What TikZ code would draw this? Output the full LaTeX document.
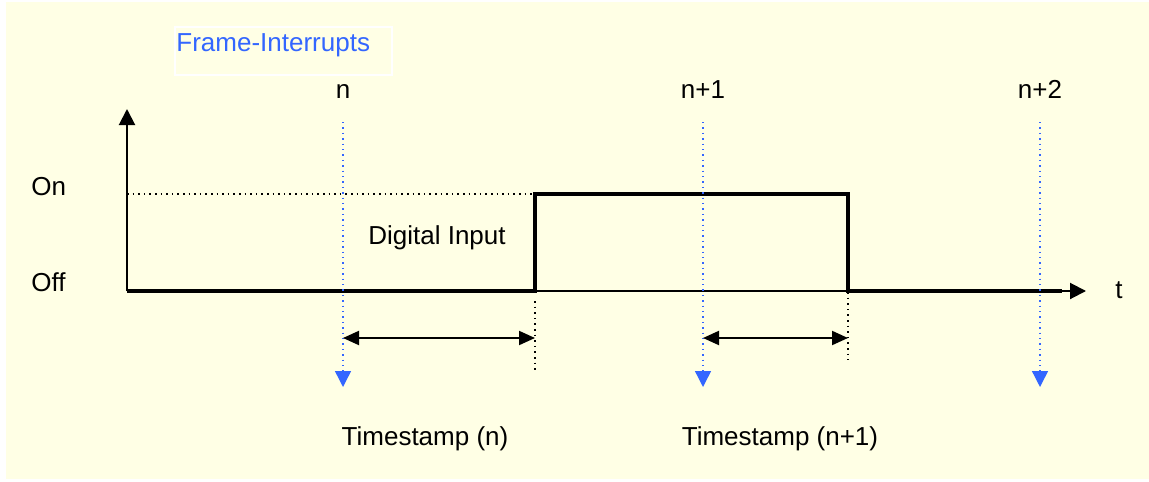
\documentclass[tikz,border=0pt]{standalone}
\usepackage{fontspec}
\setmainfont{Liberation Sans}
\usepackage{xcolor}
\usetikzlibrary{arrows.meta,positioning}
\definecolor{bgyellow}{RGB}{255,255,229}
\definecolor{irqblue}{RGB}{51,102,255}

\begin{document}
\begin{tikzpicture}[
    x=0.5pt, y=-0.5pt,
    lbl/.style={font=\fontsize{13}{15}\selectfont, inner sep=0pt},
    axis/.style={line width=1pt, -{Triangle[length=8pt,width=8pt]}},
    signal/.style={line width=2pt, line join=miter},
    irq/.style={irqblue, line width=0.7pt, dotted,
                -{Triangle[length=8pt,width=8pt]}},
    span/.style={line width=1pt,
                 {Triangle[length=8pt,width=7pt]}-{Triangle[length=8pt,width=7pt]}},
    guide/.style={line width=0.8pt, dotted},
  ]
  \useasboundingbox (0,0) rectangle (1149,481);
  \fill[white] (0,0) rectangle (1149,481);
  \fill[bgyellow] (6,2) rectangle (1149,479);

  % title box
  \node[draw=white, line width=1pt, minimum width=108.5pt, minimum height=24pt,
        anchor=north west, inner sep=0pt] (fibox) at (174,26) {};
  \node[lbl, text=irqblue, anchor=base west] (fitext) at (176,52) {Frame-Interrupts};

  % axes
  \coordinate (o) at (127,291);
  \coordinate (ytop) at (127,109);
  \coordinate (xend) at (1086,291);
  \draw[axis] (o) -- (ytop);
  \draw[axis] (o) -- (xend);
  \node[lbl, anchor=base west] (on)  at (31,195) {On};
  \node[lbl, anchor=base west] (off) at (31,291) {Off};
  \node[lbl, anchor=base] (tlab) at (1119,298) {t};

  % digital input signal
  \coordinate (r0) at (535,291);
  \coordinate (r1) at (535,194);
  \coordinate (f1) at (848,194);
  \coordinate (f0) at (848,291);
  \coordinate (sigend) at (1062,291);
  \draw[guide] (127,194) -- (r1);
  \draw[signal] (o) -- (r0) -- (r1) -- (f1) -- (f0) -- (sigend);
  \node[lbl, anchor=base] (din) at (437,244) {Digital Input};

  % frame interrupts
  \foreach \xi/\txt/\nm in {343/n/fa, 703/n+1/fb, 1040/n+2/fc}{
    \node[lbl, anchor=base] (\nm) at (\xi,98) {\txt};
    \coordinate (\nm top) at (\xi,122);
    \coordinate (\nm bot) at (\xi,387);
    \draw[irq] (\nm top) -- (\nm bot);
  }

  % timestamps
  \coordinate (ra) at (535,301);
  \coordinate (rb) at (535,371);
  \coordinate (fa') at (848,292);
  \coordinate (fb') at (848,360);
  \draw[guide] (ra) -- (rb);
  \draw[guide] (fa') -- (fb');
  \coordinate (sa0) at (343,338);
  \coordinate (sa1) at (535,338);
  \coordinate (sb0) at (703,338);
  \coordinate (sb1) at (848,338);
  \draw[span] (sa0) -- (sa1);
  \draw[span] (sb0) -- (sb1);
  \node[lbl, anchor=base] (tsa) at (425,445) {Timestamp (n)};
  \node[lbl, anchor=base] (tsb) at (780,445) {Timestamp (n+1)};
\end{tikzpicture}
\end{document}
